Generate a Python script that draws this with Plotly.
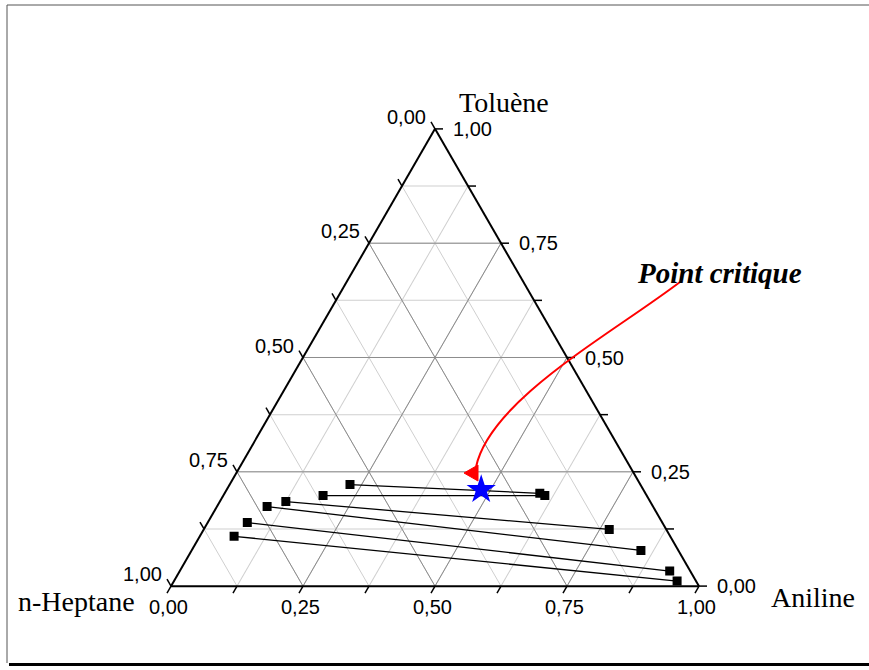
import plotly.graph_objects as go

W, H = 869, 670

# ---- data (mass fractions): Toluène, n-Heptane, Aniline ----
raff_tol = [0.222, 0.198, 0.185, 0.174, 0.139, 0.109]
raff_hep = [0.550, 0.613, 0.690, 0.731, 0.786, 0.826]
raff_ani = [0.228, 0.189, 0.125, 0.095, 0.075, 0.065]

ext_tol = [0.203, 0.198, 0.124, 0.078, 0.033, 0.011]
ext_hep = [0.200, 0.193, 0.108, 0.071, 0.039, 0.036]
ext_ani = [0.597, 0.609, 0.768, 0.851, 0.928, 0.953]

crit_tol = [0.211]
crit_hep = [0.307]
crit_ani = [0.482]

tick_vals = [0, 0.125, 0.25, 0.375, 0.5, 0.625, 0.75, 0.875, 1.0]
label_vals = [0, 0.25, 0.5, 0.75, 1.0]
label_text = ["0,00", "0,25", "0,50", "0,75", "1,00"]
major_vals = [0.25, 0.5, 0.75]


def px(x):
    return x / W


def py(y):
    return 1 - y / H


# triangle geometry in page pixels (layout)
TOP = (435.0, 128.9)
BL = (171.0, 586.1)
BR = (699.0, 586.1)
TICK_LEN = 8


def lerp(p, q, t):
    return (p[0] + (q[0] - p[0]) * t, p[1] + (q[1] - p[1]) * t)


fig = go.Figure()

# major grid lines (darker)
ga, gb, gc = [], [], []
for m in major_vals:
    ga += [m, m, None]; gb += [1 - m, 0, None]; gc += [0, 1 - m, None]
    ga += [1 - m, 0, None]; gb += [m, m, None]; gc += [0, 1 - m, None]
    ga += [1 - m, 0, None]; gb += [0, 1 - m, None]; gc += [m, m, None]
fig.add_trace(go.Scatterternary(a=ga, b=gb, c=gc, mode="lines",
                                line=dict(color="#8c8c8c", width=1),
                                hoverinfo="skip", showlegend=False))

# tie lines
for i in range(len(raff_tol)):
    fig.add_trace(go.Scatterternary(
        a=[raff_tol[i], ext_tol[i]], b=[raff_hep[i], ext_hep[i]], c=[raff_ani[i], ext_ani[i]],
        mode="lines+markers",
        line=dict(color="black", width=1.3),
        marker=dict(symbol="square", size=9, color="black"),
        showlegend=False, hoverinfo="skip"))

fig.add_trace(go.Scatterternary(a=crit_tol, b=crit_hep, c=crit_ani, mode="markers",
                                marker=dict(symbol="star", size=22, color="blue"),
                                showlegend=False, hoverinfo="skip"))

axis_common = dict(
    tickmode="array", tickvals=tick_vals, showticklabels=False,
    ticks="",
    linecolor="black", linewidth=2,
    showgrid=True, gridcolor="#cfcfcf", gridwidth=1,
    min=0, title=dict(text=""),
)

fig.update_layout(
    width=W, height=H,
    margin=dict(l=0, r=0, t=0, b=0),
    paper_bgcolor="white",
    showlegend=False,
    ternary=dict(
        sum=1,
        bgcolor="white",
        domain=dict(x=[171 / W, 699 / W], y=[py(357.5) - 0.35, py(357.5) + 0.35]),
        aaxis=axis_common,
        baxis=axis_common,
        caxis=axis_common,
    ),
)

# tick marks (Origin style: along each axis' own grid direction)
for v in tick_vals:
    p = lerp(TOP, BL, v)
    q = (p[0] - 0.5 * TICK_LEN, p[1] - 0.866 * TICK_LEN)
    fig.add_shape(type="line", xref="paper", yref="paper",
                  x0=px(p[0]), y0=py(p[1]), x1=px(q[0]), y1=py(q[1]),
                  line=dict(color="black", width=1.5))
    p = lerp(BL, BR, v)
    q = (p[0] - 0.5 * TICK_LEN, p[1] + 0.866 * TICK_LEN)
    fig.add_shape(type="line", xref="paper", yref="paper",
                  x0=px(p[0]), y0=py(p[1]), x1=px(q[0]), y1=py(q[1]),
                  line=dict(color="black", width=1.5))
    p = lerp(BR, TOP, v)
    q = (p[0] + TICK_LEN, p[1])
    fig.add_shape(type="line", xref="paper", yref="paper",
                  x0=px(p[0]), y0=py(p[1]), x1=px(q[0]), y1=py(q[1]),
                  line=dict(color="black", width=1.5))

tickfont = dict(family="Liberation Sans, Arial", size=20, color="black")
for v, t in zip(label_vals, label_text):
    # left edge: n-Heptane fraction (0 at top, 1 at bottom-left)
    p = lerp(TOP, BL, v)
    fig.add_annotation(text=t, x=px(p[0] - 7), y=py(p[1] - 12), xref="paper", yref="paper",
                       xanchor="right", yanchor="middle", showarrow=False, font=tickfont)
    # bottom edge: Aniline fraction (0 at left, 1 at right)
    p = lerp(BL, BR, v)
    fig.add_annotation(text=t, x=px(p[0] - 3), y=py(p[1] + 21), xref="paper", yref="paper",
                       xanchor="center", yanchor="middle", showarrow=False, font=tickfont)
    # right edge: Toluène fraction (0 at bottom-right, 1 at top)
    p = lerp(BR, TOP, v)
    fig.add_annotation(text=t, x=px(p[0] + 16), y=py(p[1]), xref="paper", yref="paper",
                       xanchor="left", yanchor="middle", showarrow=False, font=tickfont)

serif = "Liberation Serif, Times New Roman, serif"
annots = [
    dict(text="Toluène", x=px(504), y=py(102), size=28),
    dict(text="n-Heptane", x=px(76), y=py(601), size=28),
    dict(text="Aniline", x=px(813), y=py(597), size=28),
    dict(text="<b><i>Point critique</i></b>", x=px(719), y=py(273), size=29),
]
for a in annots:
    fig.add_annotation(text=a["text"], x=a["x"], y=a["y"], xref="paper", yref="paper",
                       xanchor="center", yanchor="middle", showarrow=False,
                       font=dict(family=serif, size=a["size"], color="black"))

# curved red arrow
p0, c1, c2, p3 = (680, 282), (610, 335), (490, 400), (476, 467)
path = (f"M {px(p0[0])},{py(p0[1])} C {px(c1[0])},{py(c1[1])} "
        f"{px(c2[0])},{py(c2[1])} {px(p3[0])},{py(p3[1])}")
fig.add_shape(type="path", path=path, xref="paper", yref="paper",
              line=dict(color="red", width=2))
head = f"M {px(464)},{py(473)} L {px(478)},{py(465)} L {px(478)},{py(481)} Z"
fig.add_shape(type="path", path=head, xref="paper", yref="paper",
              line=dict(color="red", width=1), fillcolor="red")

# outer frame (top, left, bottom)
fig.add_shape(type="line", xref="paper", yref="paper",
              x0=px(7), y0=py(5), x1=1, y1=py(5),
              line=dict(color="#555555", width=1))
fig.add_shape(type="line", xref="paper", yref="paper",
              x0=px(7), y0=py(5), x1=px(7), y1=py(663),
              line=dict(color="#555555", width=1))
fig.add_shape(type="line", xref="paper", yref="paper",
              x0=px(9), y0=py(664.5), x1=1, y1=py(664.5),
              line=dict(color="black", width=3))

fig.write_html("out.html", config={"displayModeBar": False},
               post_script="document.body.style.margin='0px';document.body.style.overflow='hidden';")
